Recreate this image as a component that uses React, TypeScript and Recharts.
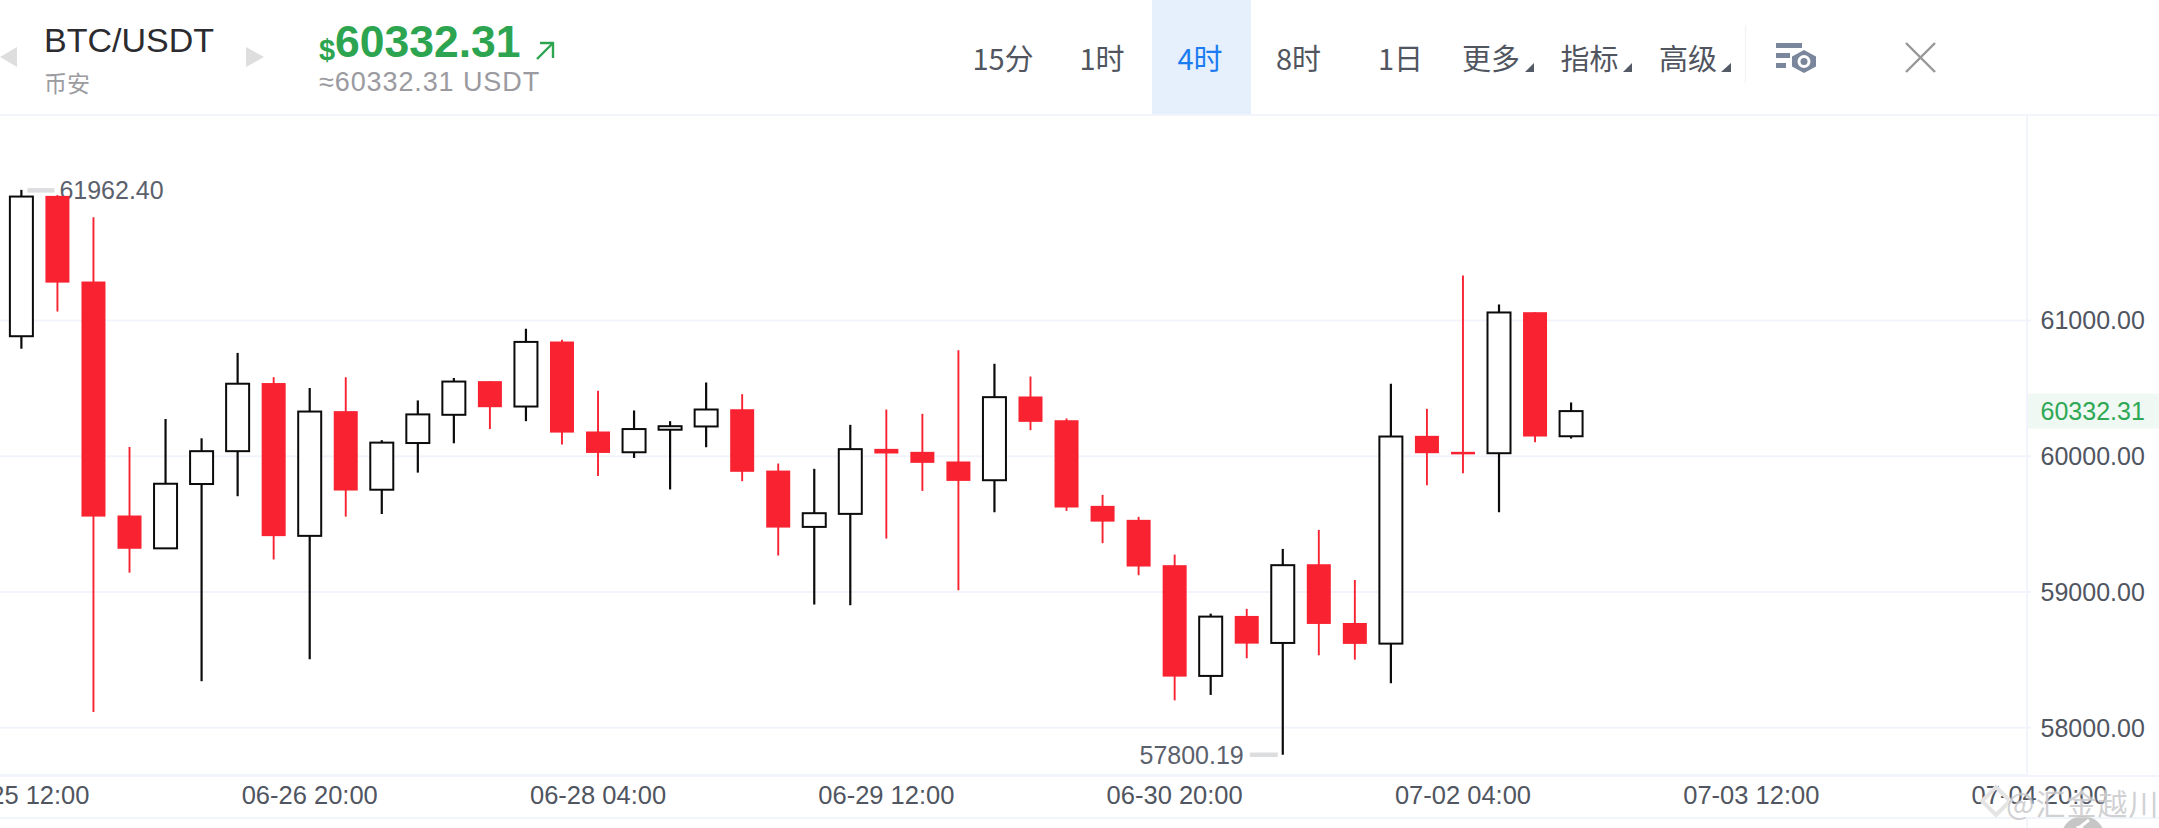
import React from "react";
import { Bar, CartesianGrid, ComposedChart, XAxis, YAxis } from "recharts";

const openPrices = [60884, 61918, 61287, 59563, 59321, 59795, 60037, 60539, 59413, 60332, 59753, 60097, 60305, 60553, 60366, 60845, 60182, 60029, 60195, 60219, 60346, 59894, 59479, 59575, 60054, 60032, 59961, 59823, 60440, 60265, 59634, 59531, 59197, 58381, 58823, 58624, 59204, 58771, 58619, 60150, 60032, 60022, 61061, 60147];
const closePrices = [61913, 61279, 59555, 59318, 59797, 60037, 60534, 59411, 60329, 59747, 60100, 60308, 60550, 60361, 60842, 60174, 60024, 60200, 60221, 60344, 59885, 59474, 59580, 60052, 60020, 59951, 59818, 60435, 60253, 59622, 59518, 59187, 58376, 58818, 58619, 59197, 58764, 58617, 60145, 60022, 60020, 61059, 60145, 60332.31];
const highPrices = [61962.4, 61924, 61760, 60068, 60274, 60132, 60761, 60582, 60503, 60582, 60118, 60411, 60576, 60553, 60939, 60858, 60482, 60337, 60258, 60543, 60457, 59946, 59907, 60231, 60344, 60312, 60781, 60681, 60587, 60278, 59715, 59553, 59275, 58840, 58875, 59317, 59457, 59088, 60533, 60349, 61332, 61118, 61061, 60396];
const lowPrices = [60792, 61066, 58116, 59142, 59321, 58342, 59705, 59239, 58503, 59555, 59574, 59879, 60095, 60200, 60258, 60087, 59855, 59987, 59755, 60066, 59816, 59268, 58907, 58902, 59393, 59744, 59012, 59587, 60192, 59597, 59359, 59123, 58201, 58241, 58511, 57800.19, 58533, 58501, 58327, 59786, 59875, 59587, 60103, 60130];

const xTickPositions = [0, 8, 16, 24, 32, 40, 48, 56];
const xTickLabels = ["06-25 12:00", "06-26 20:00", "06-28 04:00", "06-29 12:00", "06-30 20:00", "07-02 04:00", "07-03 12:00", "07-04 20:00"];
const yGridValues = [58000, 59000, 60000, 61000];
const lastPrice = 60332.31;
const maxHigh = 61962.4;
const minLow = 57800.19;

const intervals = [
  { label: "15分", left: 970, width: 66 },
  { label: "1时", left: 1078, width: 48 },
  { label: "4时", left: 1175, width: 50, active: true },
  { label: "8时", left: 1274, width: 49 },
  { label: "1日", left: 1378, width: 41 },
  { label: "更多", left: 1460, width: 62, menu: true },
  { label: "指标", left: 1560, width: 59, menu: true },
  { label: "高级", left: 1659, width: 58, menu: true },
];

const chartData = openPrices.map((open, i) => ({
  idx: i,
  open,
  close: closePrices[i],
  high: highPrices[i],
  low: lowPrices[i],
  range: [lowPrices[i], highPrices[i]],
}));

const RED = "#f92231";
const GRID = "#f1f5fb";
const FONT = '"Liberation Sans", "Noto Sans CJK SC", sans-serif';
const CJK = '"Noto Sans CJK SC", "Liberation Sans", sans-serif';

function Candle(props: any) {
  const { x, y, width, height, payload } = props;
  const { open, close, high, low } = payload;
  const perUnit = height / (high - low);
  const toY = (v: number) => y + (high - v) * perUnit;
  const up = close >= open;
  const color = up ? "#0b0b0b" : RED;
  const cx = x + width / 2;
  const top = toY(Math.max(open, close));
  const bottom = toY(Math.min(open, close));
  return (
    <g>
      <line x1={cx} x2={cx} y1={y} y2={y + height} stroke={color} strokeWidth={up ? 2.2 : 1.9} />
      {up ? (
        <rect x={x + 0.5} y={top} width={width - 1} height={bottom - top} fill="#fff" stroke={color} strokeWidth={2} />
      ) : (
        <rect x={x} y={top} width={width} height={Math.max(bottom - top, 2.5)} fill={color} />
      )}
      {high === maxHigh && (
        <g>
          <line x1={cx + 6} x2={cx + 33} y1={y + 0.5} y2={y + 0.5} stroke="#dcdddf" strokeWidth={4.5} />
          <text x={cx + 38} y={y + 9} fontFamily={FONT} fontSize={25} fill="#5b616c">{high.toFixed(2)}</text>
        </g>
      )}
      {low === minLow && (
        <g>
          <line x1={cx - 33} x2={cx - 5} y1={y + height} y2={y + height} stroke="#dcdddf" strokeWidth={4.5} />
          <text x={cx - 39} y={y + height + 9} textAnchor="end" fontFamily={FONT} fontSize={25} fill="#5b616c">{low.toFixed(2)}</text>
        </g>
      )}
    </g>
  );
}

function PriceTick(props: any) {
  const { x, y, payload } = props;
  const isLast = payload.value === lastPrice;
  const left = 2027;
  return (
    <g>
      {isLast ? (
        <rect x={left + 1} y={y - 17.5} width={132} height={35} fill="#eff8f2" />
      ) : (
        <line x1={left} x2={left + 4} y1={y} y2={y} stroke={GRID} strokeWidth={2} />
      )}
      <text x={2092.7} y={y + 9} textAnchor="middle" fontFamily={FONT} fontSize={25} fill={isLast ? "#2ea855" : "#50555f"}>
        {payload.value.toFixed(2)}
      </text>
    </g>
  );
}

function abs(left: number, top: number, extra: React.CSSProperties = {}): React.CSSProperties {
  return { position: "absolute", left, top, whiteSpace: "nowrap", ...extra };
}

export default function App() {
  return (
    <div style={{ position: "absolute", left: 0, top: 0, width: 2159, height: 828, overflow: "hidden", background: "#fff" }}>
      <div style={abs(0, 114, { width: 2159, height: 2, background: GRID })} />
      <div style={abs(0, 0)}>
        <ComposedChart
          width={2159}
          height={828}
          data={chartData}
          margin={{ top: 115, right: 0, bottom: 0, left: 0 }}
        >
          <CartesianGrid vertical={false} horizontalValues={yGridValues} stroke={GRID} strokeWidth={2} />
          <XAxis
            dataKey="idx"
            type="number"
            domain={[-0.594, 55.65]}
            ticks={xTickPositions}
            interval={0}
            height={53}
            axisLine={{ stroke: GRID, strokeWidth: 2 }}
            tickLine={false}
            tickMargin={5}
            tick={{ fontFamily: FONT, fontSize: 25.5, fill: "#50555f" }}
            tickFormatter={(v: number) => xTickLabels[xTickPositions.indexOf(v)]}
            allowDataOverflow
          />
          <YAxis
            orientation="right"
            width={132}
            domain={[57651, 62514]}
            ticks={[...yGridValues, lastPrice]}
            interval={0}
            axisLine={{ stroke: GRID, strokeWidth: 2 }}
            tickLine={false}
            tickSize={0}
            tick={<PriceTick />}
            allowDataOverflow
          />
          <Bar dataKey="range" barSize={24} isAnimationActive={false} shape={<Candle />} />
        </ComposedChart>
      </div>

      <div style={abs(0, 775, { width: 2159, height: 2, background: GRID })} />
      <div style={abs(0, 817, { width: 2159, height: 2, background: GRID })} />
      <div style={abs(2026, 818, { width: 2, height: 10, background: GRID })} />

      {/* header */}
      <svg width={2159} height={114} style={abs(0, 0)}>
        <polygon points="0,57 17,47 17,67" fill="#dedede" />
        <polygon points="246,47 264,57 246,67" fill="#dedede" />
        <g stroke="#2ca450" strokeWidth={2.4} fill="none">
          <path d="M537 59 L553 43" />
          <path d="M540 43 L553 43 L553 58" />
        </g>
        <rect x={1152} y={0} width={99} height={114} fill="#e6f0fc" />
        <line x1={1745.5} x2={1745.5} y1={25} y2={83} stroke="#f3f4f6" strokeWidth={1.5} />
        <polygon points="1525,72 1534,63 1534,72" fill="#555b66" />
        <polygon points="1623,72 1632,63 1632,72" fill="#555b66" />
        <polygon points="1721,72 1731,63 1731,72" fill="#555b66" />
        <g fill="#7a869b">
          <rect x={1776} y={43} width={26} height={5} />
          <rect x={1776} y={53} width={14} height={5} />
          <rect x={1776} y={63} width={10} height={5} />
          <polygon points="1804,50 1816,56.5 1816,66.5 1804,73 1792,66.5 1792,56.5" />
        </g>
        <circle cx={1804} cy={61.5} r={6.5} fill="#fff" />
        <circle cx={1804} cy={61.5} r={3.5} fill="#7a869b" />
        <g stroke="#979797" strokeWidth={2.4}>
          <line x1={1906} y1={43} x2={1935} y2={72} />
          <line x1={1935} y1={43} x2={1906} y2={72} />
        </g>
      </svg>

      <div style={abs(44, 20, { fontFamily: FONT, fontSize: 34, lineHeight: "40px", color: "#2b2b30" })}>BTC/USDT</div>
      <div style={abs(44, 66, { fontFamily: CJK, fontSize: 23, lineHeight: "32px", color: "#9b9ba0" })}>币安</div>
      <div style={abs(319, 32, { fontFamily: FONT, fontWeight: 700, fontSize: 29, lineHeight: "36px", color: "#2ca450" })}>$</div>
      <div style={abs(335, 17, { fontFamily: FONT, fontWeight: 700, fontSize: 44.5, lineHeight: "50px", color: "#2ca450" })}>60332.31</div>
      <div style={abs(319, 66, { fontFamily: FONT, fontSize: 27, lineHeight: "32px", letterSpacing: 0.9, color: "#9a9aa0" })}>≈60332.31 USDT</div>

      {intervals.map((it) => (
        <div
          key={it.label}
          style={abs(it.left, 37, {
            width: it.width,
            textAlign: "center",
            fontFamily: CJK,
            fontSize: 29,
            lineHeight: "40px",
            color: it.active ? "#1b7cf2" : "#50555f",
          })}
        >
          {it.label}
        </div>
      ))}

      {/* watermark */}
      <svg width={219} height={58} style={abs(1940, 770)}>
        <circle cx={143} cy={80} r={40} fill="none" />
        <circle cx={143} cy={78} r={21} fill="#c4c4c4" opacity={0} />
      </svg>
      <svg width={60} height={20} style={abs(2053, 808)}>
        <circle cx={30} cy={30} r={22} fill="#c6c6c6" />
        <path d="M25 18 L25 24 M36 12 L27 19 L36 26" stroke="#fff" strokeWidth={3} fill="none" />
      </svg>
      <svg width={40} height={40} style={abs(1976, 782)}>
        <path d="M20 5 L34 19 L20 33 L6 19 Z" fill="none" stroke="#e4e4e4" strokeWidth={4} />
      </svg>
      <div style={abs(2006, 782, { fontFamily: CJK, fontSize: 30, lineHeight: "40px", letterSpacing: 1, color: "rgba(170,170,175,0.55)", textShadow: "0 0 2px #fff" })}>@汇金越川|A</div>
    </div>
  );
}
